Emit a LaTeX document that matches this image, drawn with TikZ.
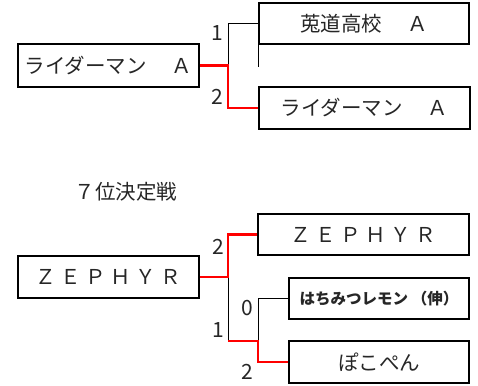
\documentclass[tikz,border=0pt]{standalone}
\usepackage{fontspec}
\setmainfont{Noto Sans CJK JP}
\definecolor{txt}{HTML}{262626}
\definecolor{winred}{HTML}{FF0000}
\begin{document}
\begin{tikzpicture}[x=1pt,y=-1pt,
  box/.style={draw=black,line width=1.5pt,inner sep=0pt,minimum height=41pt,text=txt,font=\fontsize{20.5}{24}\selectfont},
  win/.style={draw=winred,line width=2.4pt},
  lose/.style={draw=black,line width=1pt},
  score/.style={font=\fontsize{21}{24}\selectfont,text=txt,inner sep=0pt}]
\useasboundingbox (0,0) rectangle (478,385);
% top bracket
\node[box,minimum width=181pt,minimum height=43pt] (L1) at (108.5,65.5) {ライダーマン　 Ａ};
\node[box,minimum width=210pt] (R1) at (364,23.5) {莵道高校　 Ａ};
\node[box,minimum width=211pt,minimum height=42pt] (R2) at (364.5,108) {ライダーマン　 Ａ};
\coordinate (j1) at (228,65.5);
\draw[lose] (R1.west) -| (j1);
\draw[lose] (R1.south west) -- ++(0,22);
\draw[win] (L1.east) -- (j1) |- (R2.west);
\node[score] (s1) at (217,33) {1};
\node[score] (s2) at (217,97) {2};
% title
\node[font=\fontsize{20.5}{24}\selectfont,text=txt,inner sep=0pt] (title) at (126,192) {７位決定戦};
% bottom bracket
\node[box,minimum width=181pt,minimum height=42pt] (L2) at (108.5,277) {Ｚ Ｅ Ｐ Ｈ Ｙ Ｒ};
\node[box,minimum width=211pt] (Z2) at (363.5,234.5) {Ｚ Ｅ Ｐ Ｈ Ｙ Ｒ};
\node[box,minimum width=180pt,font=\fontsize{15.5}{18}\selectfont\bfseries] (H) at (379,298.5) {はちみつレモン （伸）};
\node[box,minimum width=180pt,minimum height=42pt] (P) at (379,362) {ぽこぺん};
\coordinate (j2) at (228,277);
\coordinate (j3) at (228,341);
\coordinate (j4) at (258,341);
\draw[lose] (j2) -- (j3);
\draw[lose] (j4) |- (H.west);
\draw[win] (L2.east) -- (j2) |- (Z2.west);
\draw[win] (j3) -- (j4) |- (P.west);
\node[score] (s3) at (218,247) {2};
\node[score] (s4) at (218,330) {1};
\node[score] (s5) at (247,308) {0};
\node[score] (s6) at (247,372) {2};
\end{tikzpicture}
\end{document}
